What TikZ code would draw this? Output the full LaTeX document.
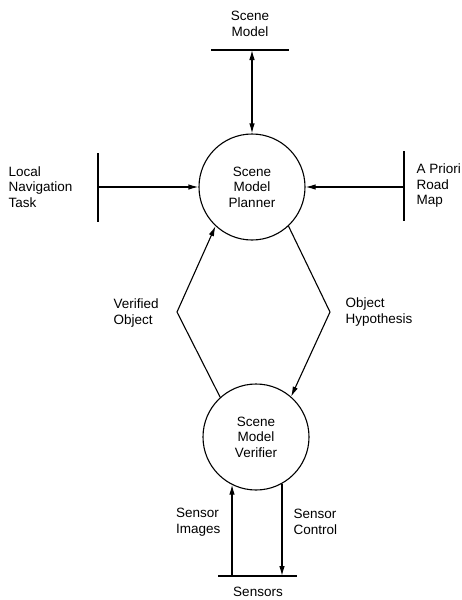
\documentclass[tikz,border=0pt]{standalone}
\usepackage{fontspec}
\setmainfont{Liberation Sans}
\usetikzlibrary{arrows.meta}
\begin{document}
\begin{tikzpicture}[x=1pt,y=-1pt,line width=1.1pt,
  lbl/.style={font=\fontsize{13.5}{15.5}\selectfont,inner sep=0pt},
  proc/.style={draw,circle,minimum size=106pt,inner sep=0pt,align=center,font=\fontsize{13.5}{15.5}\selectfont},
  tip/.style={-{Latex[length=10pt,width=5.5pt]}},
  dtip/.style={{Latex[length=10pt,width=5.5pt]}-{Latex[length=10pt,width=5.5pt]}}]
\useasboundingbox (0,0) rectangle (462,600);
% processes
\node[proc] (planner) at (252,187) {Scene\\Model\\Planner};
\node[proc] (verifier) at (256,437) {Scene\\Model\\Verifier};
% top store
\coordinate (tl) at (211,50);
\coordinate (tr) at (289,50);
\coordinate (tm) at (252,50);
\draw (tl) -- (tr);
\node[lbl,align=center] (tsm) at (250,24) {Scene\\Model};
\draw[dtip] (tm) -- (planner.north);
% left terminator
\coordinate (lt) at (98,153);
\coordinate (lb) at (98,222);
\coordinate (lm) at (98,187);
\draw (lt) -- (lb);
\node[lbl,align=left,anchor=west] (lnt) at (8,187) {Local\\Navigation\\Task};
\draw[tip] (lm) -- (planner.west);
% right terminator
\coordinate (rt) at (404,151);
\coordinate (rb) at (404,221);
\coordinate (rm) at (404,187);
\draw (rt) -- (rb);
\node[lbl,align=left,anchor=west] (arm) at (416,186) {A Priori\\Road\\Map};
\draw[tip] (rm) -- (planner.east);
% diamond flows
\coordinate (lv) at (177,312);
\coordinate (rv) at (330,312);
\draw[tip] (verifier.132) -- (lv) -- (planner.227);
\draw[tip] (planner.313) -- (rv) -- (verifier.49);
\node[lbl,align=left,anchor=west] (vo) at (113,313) {Verified\\Object};
\node[lbl,align=left,anchor=west] (oh) at (345,312) {Object\\Hypothesis};
% sensors
\coordinate (sbl) at (218,576);
\coordinate (sbr) at (297,576);
\draw (sbl) -- (sbr);
\coordinate (sl) at (232,576);
\coordinate (sr) at (282,576);
\draw[tip] (sl) -- (sl |- verifier.243);
\draw[tip] (sr |- verifier.299) -- (sr);
\node[lbl] (sens) at (258,592) {Sensors};
\node[lbl,align=left,anchor=east] (si) at (221,522) {Sensor\\Images};
\node[lbl,align=left,anchor=west] (sc) at (293,522) {Sensor\\Control};
\end{tikzpicture}
\end{document}
